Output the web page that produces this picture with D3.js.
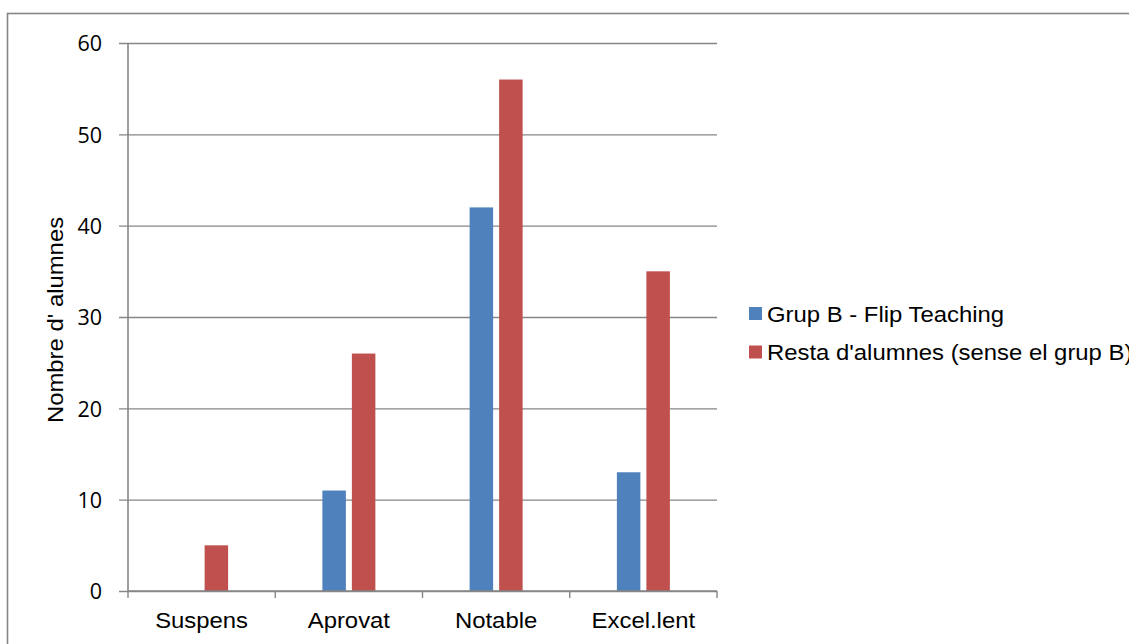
<!DOCTYPE html>
<html>
<head>
<meta charset="utf-8">
<script src="https://cdn.jsdelivr.net/npm/d3@7"></script>
<style>
  html, body { margin: 0; padding: 0; background: #fff; overflow: hidden; }
  svg { display: block; }
  text { fill: #000; }
</style>
</head>
<body>
<svg id="chart" width="1129" height="644"></svg>
<script>
// Grade categories and student counts for each group
const categories = ["Suspens", "Aprovat", "Notable", "Excel.lent"];
const seriesNames = ["Grup B - Flip Teaching", "Resta d'alumnes (sense el grup B)"];
const grupB = [0, 11, 42, 13];
const restaAlumnes = [5, 26, 56, 35];
const yTicks = [0, 10, 20, 30, 40, 50, 60];
const colors = ["#4F81BD", "#C0504D"];
const yTitle = "Nombre d' alumnes";

const svg = d3.select("#chart");
const W = 1129, H = 644;
const plot = { left: 128, right: 717, top: 43, bottom: 591 };
const gridColor = "#868686";
const labelFont = "'Liberation Sans', Arial, sans-serif";
const labelSize = 21.5;
const STRETCH = 1.11;   // text glyphs are drawn slightly wide

// widen a text element along its writing direction
function widen(sel) {
  sel.each(function () {
    const len = this.getComputedTextLength();
    d3.select(this).attr("textLength", len * STRETCH).attr("lengthAdjust", "spacingAndGlyphs");
  });
}

// chart frame
svg.append("rect")
  .attr("x", 7.5).attr("y", 13.5)
  .attr("width", W + 20).attr("height", H + 20)
  .attr("fill", "none").attr("stroke", gridColor).attr("stroke-width", 1.6);

const x0 = d3.scaleBand().domain(categories).range([plot.left, plot.right]).padding(0);
const groupW = 53;
const x1 = d3.scaleBand().domain(seriesNames)
  .range([(x0.bandwidth() - groupW) / 2, (x0.bandwidth() + groupW) / 2])
  .paddingInner(0.2034).paddingOuter(0);
const y = d3.scaleLinear().domain([0, 60]).range([plot.bottom, plot.top]);

// horizontal gridlines with left ticks
const yAxis = svg.append("g").attr("transform", `translate(${plot.left},0)`)
  .call(d3.axisLeft(y).tickValues(yTicks).tickSize(9).tickPadding(17).tickSizeOuter(0));
yAxis.select(".domain").remove();
yAxis.selectAll(".tick line").remove();
yAxis.selectAll(".tick").append("line")
  .attr("x1", -9).attr("x2", plot.right - plot.left)
  .attr("stroke", gridColor).attr("stroke-width", 1.4);
yAxis.selectAll(".tick text")
  .style("font-family", "'Open Sans', sans-serif")
  .style("font-size", "21.5px")
  .attr("fill", "#000").attr("dy", "0.36em");

// y axis line
svg.append("line")
  .attr("x1", plot.left).attr("x2", plot.left)
  .attr("y1", plot.top).attr("y2", plot.bottom)
  .attr("stroke", gridColor).attr("stroke-width", 1.6);

// bars
const rows = categories.map((c, i) => ({ cat: c, vals: [grupB[i], restaAlumnes[i]] }));
const groups = svg.append("g").selectAll("g").data(rows).join("g")
  .attr("transform", d => `translate(${x0(d.cat)},0)`);
groups.selectAll("rect")
  .data(d => d.vals.map((v, j) => ({ name: seriesNames[j], v, j })))
  .join("rect")
  .attr("x", d => x1(d.name))
  .attr("width", x1.bandwidth())
  .attr("y", d => y(d.v))
  .attr("height", d => y(0) - y(d.v))
  .attr("fill", d => colors[d.j]);

// x axis
const xAxis = svg.append("g").attr("transform", `translate(0,${plot.bottom})`);
xAxis.append("line")
  .attr("x1", plot.left).attr("x2", plot.right)
  .attr("stroke", gridColor).attr("stroke-width", 1.6);
const boundaries = categories.map(c => x0(c)).concat([x0.range()[1]]);
xAxis.selectAll("line.tk").data(boundaries).join("line").attr("class", "tk")
  .attr("x1", d => d).attr("x2", d => d).attr("y1", 0).attr("y2", 7)
  .attr("stroke", gridColor).attr("stroke-width", 1.4);
xAxis.selectAll("text").data(categories).join("text")
  .attr("x", d => x0(d) + x0.bandwidth() / 2)
  .attr("y", 36.5)
  .attr("text-anchor", "middle")
  .style("font-family", labelFont).style("font-size", labelSize + "px")
  .text(d => d)
  .call(widen);

// y axis title
svg.append("text")
  .attr("transform", "translate(63,320) rotate(-90)")
  .attr("text-anchor", "middle")
  .style("font-family", labelFont).style("font-size", labelSize + "px")
  .text(yTitle)
  .call(widen);

// legend
const legend = svg.append("g").attr("transform", "translate(749,307)");
const li = legend.selectAll("g").data(seriesNames).join("g")
  .attr("transform", (d, i) => `translate(0,${i * 38.5})`);
li.append("rect").attr("width", 13).attr("height", 13).attr("fill", (d, i) => colors[i]);
li.append("text").attr("x", 18).attr("y", 14.5)
  .style("font-family", labelFont).style("font-size", labelSize + "px")
  .text(d => d)
  .call(widen);
</script>
</body>
</html>
